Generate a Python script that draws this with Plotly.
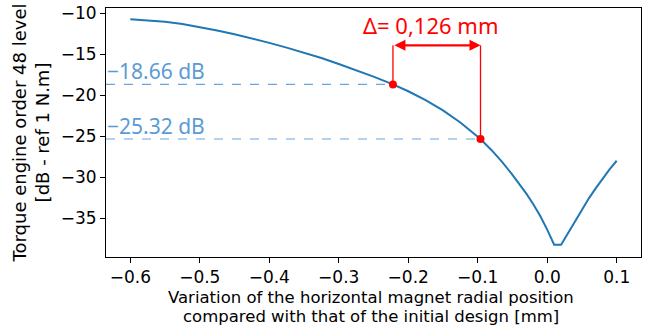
import plotly.graph_objects as go

# Curve data
x_pos = [-0.600, -0.575, -0.550, -0.525, -0.500, -0.475, -0.450, -0.425, -0.400, -0.375,
         -0.350, -0.325, -0.300, -0.275, -0.250, -0.222, -0.200, -0.175, -0.150, -0.125,
         -0.100, -0.096, -0.080, -0.065, -0.050, -0.040, -0.030, -0.020, -0.010, 0.000,
         0.010, 0.020, 0.030, 0.040, 0.050, 0.060, 0.070, 0.080, 0.090, 0.100]
level_db = [-10.72, -10.85, -11.03, -11.30, -11.65, -12.08, -12.55, -13.05, -13.60, -14.18,
            -14.80, -15.45, -16.17, -16.92, -17.72, -18.66, -19.50, -20.57, -21.82, -23.30,
            -25.02, -25.32, -26.68, -28.10, -29.68, -30.80, -31.98, -33.26, -34.71, -36.36,
            -38.20, -38.20, -36.75, -35.30, -33.90, -32.55, -31.30, -30.10, -29.00, -27.97]

# Highlighted points
mark_x = [-0.222, -0.096]
mark_y = [-18.66, -25.32]
mark_labels = ["\u221218.66 dB", "\u221225.32 dB"]
delta_label = "\u0394= 0,126 mm"
arrow_y = -13.9

x_title_lines = ["Variation of the horizontal magnet radial position",
                 "compared with that of the initial design [mm]"]
y_title = "Torque engine order 48 level<br>[dB - ref 1 N.m]"

x_range = [-0.635, 0.135]
y_range = [-39.7, -9.35]

x_ticks = [-0.6, -0.5, -0.4, -0.3, -0.2, -0.1, 0.0, 0.1]
x_ticktext = ["\u22120.6", "\u22120.5", "\u22120.4", "\u22120.3", "\u22120.2", "\u22120.1", "0.0", "0.1"]
y_ticks = [-10, -15, -20, -25, -30, -35]
y_ticktext = ["\u221210", "\u221215", "\u221220", "\u221225", "\u221230", "\u221235"]

fig = go.Figure()

# Dashed reference lines and red vertical guides
for mx, my in zip(mark_x, mark_y):
    fig.add_shape(type="line", xref="x", yref="y", x0=x_range[0], x1=mx, y0=my, y1=my,
                  line=dict(color="#6aa6dc", width=1.2, dash="dash"), layer="below")
    fig.add_shape(type="line", xref="x", yref="y", x0=mx, x1=mx, y0=my, y1=arrow_y,
                  line=dict(color="#ff0000", width=1.3))

fig.add_trace(go.Scatter(x=x_pos, y=level_db, mode="lines",
                         line=dict(color="#1f77b4", width=2), showlegend=False))
fig.add_trace(go.Scatter(x=mark_x, y=mark_y, mode="markers",
                         marker=dict(color="#ff0000", size=8), showlegend=False))

for my, lab in zip(mark_y, mark_labels):
    fig.add_annotation(x=x_range[0], y=my, xref="x", yref="y", text=lab, showarrow=False,
                       xanchor="left", yanchor="bottom", xshift=-1, yshift=-3,
                       font=dict(family="Noto Sans", size=21, color="#5b9bd5"))

# Double-headed arrow
fig.add_annotation(x=mark_x[1], y=arrow_y, ax=mark_x[0], ay=arrow_y,
                   xref="x", yref="y", axref="x", ayref="y", text="",
                   showarrow=True, arrowhead=2, arrowside="end+start", arrowsize=1,
                   arrowwidth=2.2, arrowcolor="#ff0000", standoff=0, startstandoff=0)
fig.add_annotation(x=(mark_x[0] + mark_x[1]) / 2, y=arrow_y, xref="x", yref="y",
                   text=delta_label, showarrow=False, yanchor="bottom", yshift=3, xshift=-6,
                   font=dict(family="Noto Sans", size=22, color="#ff0000"))

# X axis title as two text lines
xtitle_font = dict(family="DejaVu Sans", size=16.5, color="#000000")
for i, line in enumerate(x_title_lines):
    fig.add_annotation(x=0.5, y=0, xref="paper", yref="paper", text=line, showarrow=False,
                       xanchor="center", yanchor="middle", yshift=-40 - 19 * i, xshift=-3,
                       font=xtitle_font)

tick_font = dict(family="DejaVu Sans", size=17, color="#000000")
ytitle_font = dict(family="DejaVu Sans", size=18, color="#000000")
fig.update_xaxes(range=x_range, tickvals=x_ticks, ticktext=x_ticktext,
                 showline=True, linecolor="#000000", linewidth=1, mirror=True,
                 ticks="outside", ticklen=5, tickcolor="#000000", showgrid=False,
                 zeroline=False, tickfont=tick_font)
fig.update_yaxes(range=y_range, tickvals=y_ticks, ticktext=y_ticktext,
                 showline=True, linecolor="#000000", linewidth=1, mirror=True,
                 ticks="outside", ticklen=5, tickcolor="#000000", showgrid=False,
                 zeroline=False, tickfont=tick_font,
                 title=dict(text=y_title, font=ytitle_font, standoff=6))

fig.update_layout(width=645, height=326, margin=dict(l=106, r=4, t=8, b=69, autoexpand=False),
                  plot_bgcolor="white", paper_bgcolor="white")

fig.write_html("out.html")
